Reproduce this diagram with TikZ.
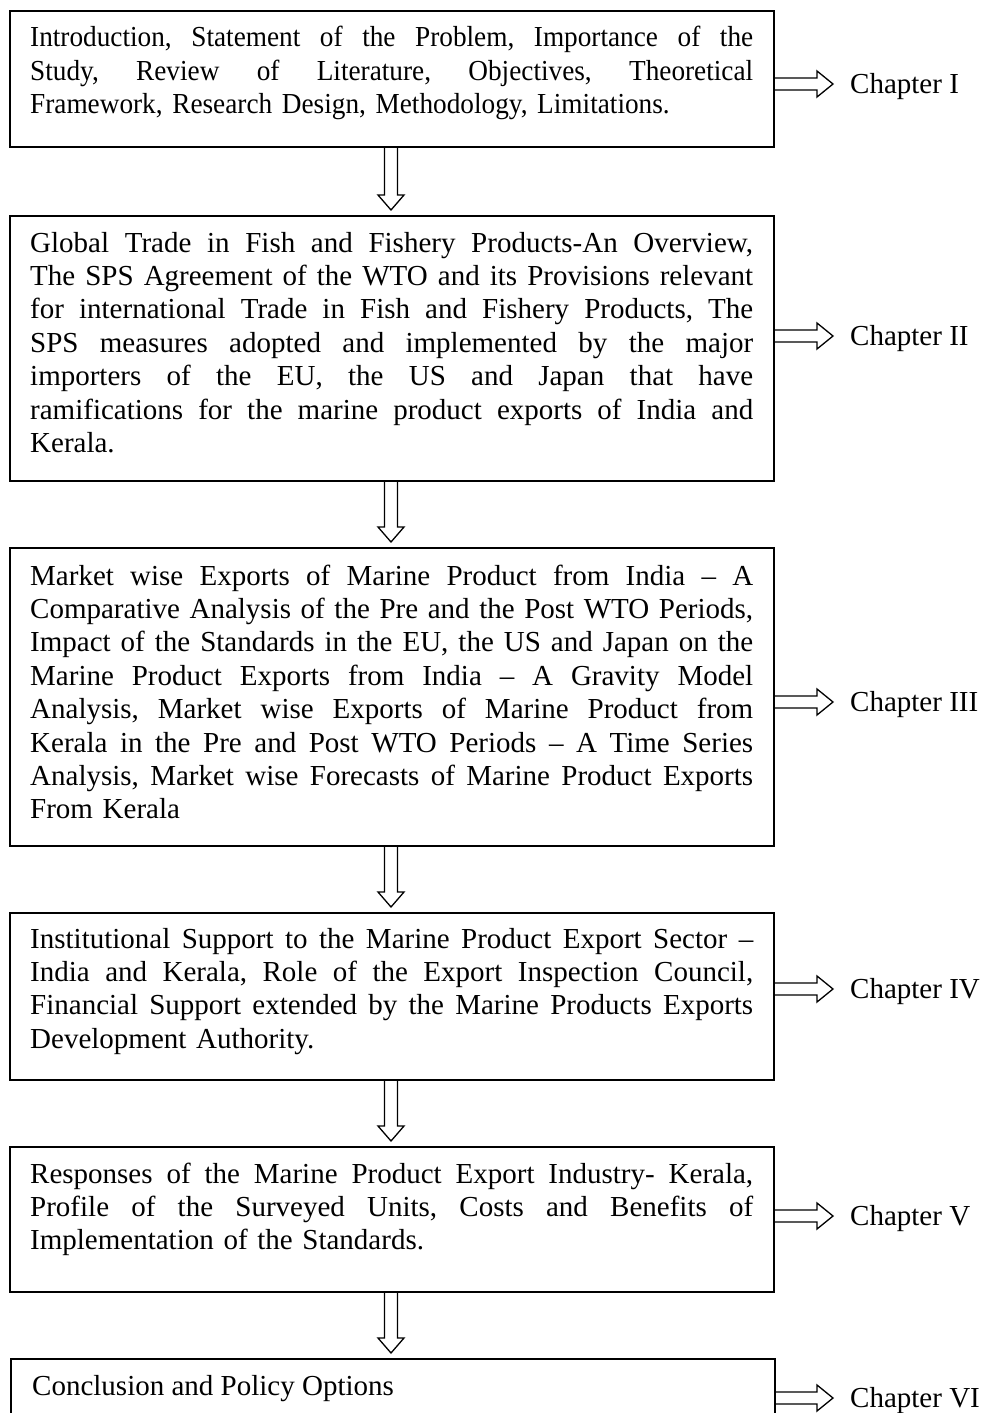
\documentclass[tikz,border=0pt]{standalone}
\usepackage{fontspec}
\setmainfont{Liberation Serif}
\newfontfamily\condfont[FakeStretch=0.94]{Liberation Serif}
\usetikzlibrary{calc}
\tikzset{
  box/.style={draw, line width=1.6pt, anchor=north west, inner sep=0pt, minimum width=764pt},
  txt/.style={anchor=base west, inner sep=0pt, text width=723pt, align=left, font=\fontsize{29}{33.4}\selectfont},
  lbl/.style={anchor=base west, inner sep=0pt, font=\fontsize{29}{33.4}\selectfont},
  blk/.style={draw, line width=1.3pt, line join=miter},
}
\newcommand\jl[1]{\makebox[723pt][s]{\frenchspacing\spaceskip=\fontdimen2\font plus 1fil\relax #1}\\}
\newcommand\varrow[2]{\draw[blk] let \p1=(#1.south), \p2=(#2.north) in
  ({391pt-6.5pt},\y1) -- ({391pt-6.5pt},{\y2+20pt}) -- ({391pt-13pt},{\y2+20pt}) -- ({391pt},{\y2+5pt})
  -- ({391pt+13pt},{\y2+20pt}) -- ({391pt+6.5pt},{\y2+20pt}) -- ({391pt+6.5pt},\y1);}
\newcommand\harrow[4]{%
  \node[lbl] (#3) at (850,{#2+9}) {#4};
  \draw[blk] (#1.east |- 0,{#2-6}) -- (817,{#2-6}) -- (817,{#2-13}) -- (833,#2)
    -- (817,{#2+13}) -- (817,{#2+6}) -- (#1.east |- 0,{#2+6});}
\begin{document}
\begin{tikzpicture}[x=1pt,y=-1pt]
\useasboundingbox (0,0) rectangle (985,1413);
% boxes
\node[box, minimum height=136pt] (b1) at (9,10) {};
\node[box, minimum height=265pt] (b2) at (9,215) {};
\node[box, minimum height=298pt] (b3) at (9,547) {};
\node[box, minimum height=167pt] (b4) at (9,912) {};
\node[box, minimum height=145pt] (b5) at (9,1146) {};
\node[box, minimum height=100pt] (b6) at (10,1358) {};
% texts
\node[txt, font=\fontsize{29}{33.4}\condfont] (t1) at (30,47) {%
\jl{Introduction, Statement of the Problem, Importance of the}
\jl{Study, Review of Literature, Objectives, Theoretical}
Framework, Research Design, Methodology, Limitations.};
\node[txt] (t2) at (30,252) {%
\jl{Global Trade in Fish and Fishery Products-An Overview,}
\jl{The SPS Agreement of the WTO and its Provisions relevant}
\jl{for international Trade in Fish and Fishery Products, The}
\jl{SPS measures adopted and implemented by the major}
\jl{importers of the EU, the US and Japan that have}
\jl{ramifications for the marine product exports of India and}
Kerala.};
\node[txt] (t3) at (30,585) {%
\jl{Market wise Exports of Marine Product from India -- A}
\jl{Comparative Analysis of the Pre and the Post WTO Periods,}
\jl{Impact of the Standards in the EU, the US and Japan on the}
\jl{Marine Product Exports from India -- A Gravity Model}
\jl{Analysis, Market wise Exports of Marine Product from}
\jl{Kerala in the Pre and Post WTO Periods -- A Time Series}
\jl{Analysis, Market wise Forecasts of Marine Product Exports}
From Kerala};
\node[txt] (t4) at (30,948) {%
\jl{Institutional Support to the Marine Product Export Sector --}
\jl{India and Kerala, Role of the Export Inspection Council,}
\jl{Financial Support extended by the Marine Products Exports}
Development Authority.};
\node[txt] (t5) at (30,1183) {%
\jl{Responses of the Marine Product Export Industry- Kerala,}
\jl{Profile of the Surveyed Units, Costs and Benefits of}
Implementation of the Standards.};
\node[lbl] (t6) at (32,1395) {Conclusion and Policy Options};
% down arrows
\varrow{b1}{b2}
\varrow{b2}{b3}
\varrow{b3}{b4}
\varrow{b4}{b5}
\varrow{b5}{b6}
% right arrows and chapter labels
\harrow{b1}{84}{c1}{Chapter I}
\harrow{b2}{336}{c2}{Chapter II}
\harrow{b3}{702}{c3}{Chapter III}
\harrow{b4}{989}{c4}{Chapter IV}
\harrow{b5}{1216}{c5}{Chapter V}
\harrow{b6}{1398}{c6}{Chapter VI}
\end{tikzpicture}
\end{document}
